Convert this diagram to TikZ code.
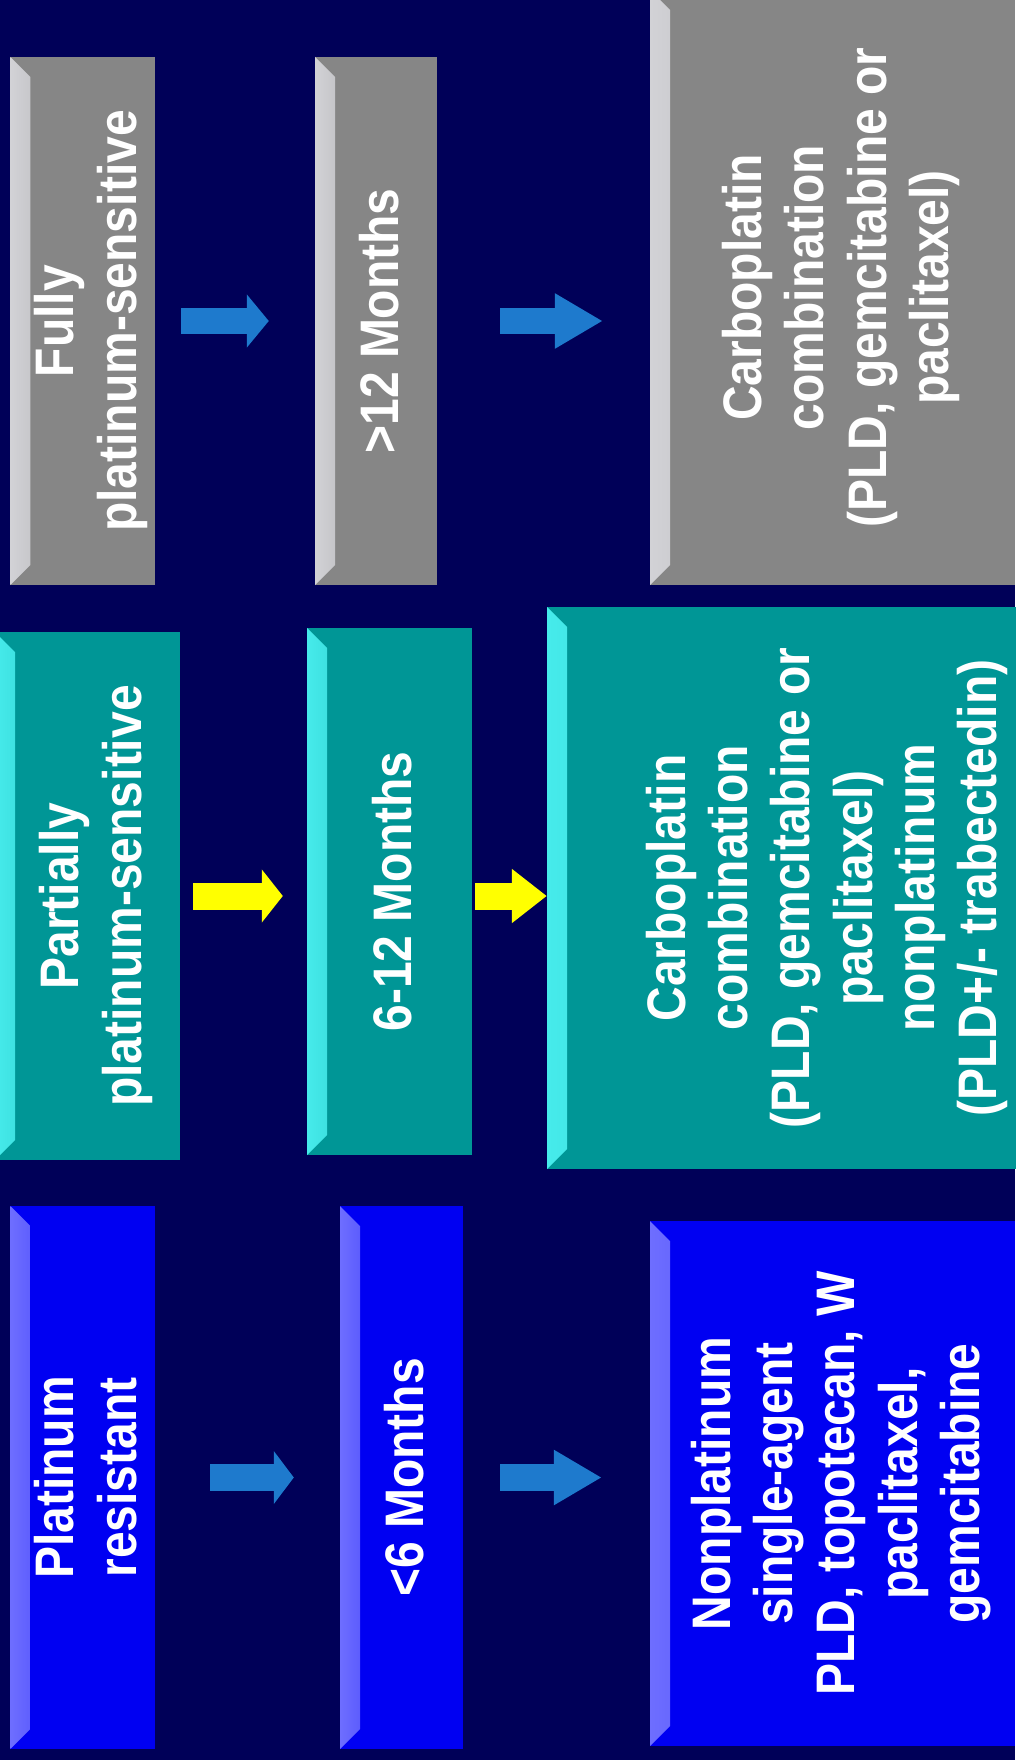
\documentclass[tikz,border=0pt]{standalone}
\usepackage{fontspec}
\setmainfont{Liberation Sans}
\usepackage{xcolor}
\usepackage{graphicx}
\usetikzlibrary{arrows.meta}
\definecolor{slidebg}{RGB}{0,0,88}
\definecolor{facegray}{RGB}{134,134,134}
\definecolor{bevelgray}{RGB}{210,210,214}
\definecolor{faceteal}{RGB}{0,150,150}
\definecolor{bevelteal}{RGB}{70,235,235}
\definecolor{faceblue}{RGB}{0,0,242}
\definecolor{bevelblue}{RGB}{110,110,255}
\definecolor{arrowblue}{RGB}{30,122,205}
\definecolor{arrowyellow}{RGB}{255,255,0}
\def\bevel{20pt}
% text of a box, turned to read upwards
\newcommand{\vlabel}[1]{\hspace*{\bevel}\rotatebox{90}{\scalebox{1}[1.13]{\begin{tabular}{@{}c@{}}#1\end{tabular}}}}
\tikzset{
  bevel box/.style 2 args={rectangle, inner sep=0pt, fill=#1, text=white,
    font=\fontsize{48}{55}\selectfont\bfseries,
    path picture={
      \fill[left color=#2, right color=#1]
        (path picture bounding box.north west) -- (path picture bounding box.south west)
        -- ([xshift=\bevel,yshift=\bevel]path picture bounding box.south west)
        -- ([xshift=\bevel,yshift=-\bevel]path picture bounding box.north west) -- cycle;
    }},
  flow/.style={line width=27pt, -{Triangle[width=52pt,length=#1]}},
  flow/.default=22pt
}

\begin{document}
\begin{tikzpicture}[x=1pt, y=-1pt]
    \tikzstyle{gray box}=[bevel box={facegray}{bevelgray}]
    \tikzstyle{teal box}=[bevel box={faceteal}{bevelteal}]
    \tikzstyle{blue box}=[bevel box={faceblue}{bevelblue}]

    \useasboundingbox (0,0) rectangle (1015,1760);
    \fill[slidebg] (0,0) rectangle (1015,1760);

    % Fully sensitive row
    \node[gray box, minimum width=139pt, minimum height=528pt] (G-1) at (82.5,321) {\vlabel{Fully\\platinum-sensitive}};
    \node[gray box, minimum width=122pt, minimum height=528pt] (G-2) at (376,321) {\vlabel{>12 Months}};
    \node[gray box, minimum width=365pt, minimum height=595pt] (G-3) at (832.5,287.5) {\vlabel{Carboplatin\\combination\\(PLD, gemcitabine or\\paclitaxel)}};

    % Partially sensitive row
    \node[teal box, minimum width=185pt, minimum height=528pt] (T-1) at (87.5,896) {\vlabel{Partially\\platinum-sensitive}};
    \node[teal box, minimum width=165pt, minimum height=527pt] (T-2) at (389.5,891.5) {\vlabel{6-12 Months}};
    \node[teal box, minimum width=543pt, minimum height=562pt] (T-3) at (818.5,888) {\vlabel{Carboplatin\\combination\\(PLD, gemcitabine or\\paclitaxel)\\nonplatinum\\(PLD+/- trabectedin)}};

    % Resistant row
    \node[blue box, minimum width=139pt, minimum height=543pt] (B-1) at (82.5,1477.5) {\vlabel{Platinum\\resistant}};
    \node[blue box, minimum width=123pt, minimum height=543pt] (B-2) at (401.5,1477.5) {\vlabel{<6 Months}};
    \node[blue box, minimum width=365pt, minimum height=525pt] (B-3) at (832.5,1483.5) {\vlabel{Nonplatinum\\single-agent\\PLD, topotecan, W\\paclitaxel,\\gemcitabine}};

    % Arrows between the boxes
    \draw[flow, draw=arrowblue, line width=26pt, shorten <=26pt, shorten >=46pt] (G-1.east) -- (G-2.west);
    \draw[flow=48pt, draw=arrowblue, line width=26pt, shorten <=63pt, shorten >=47pt] (G-2.east) -- (G-2.east -| G-3.west);
    \draw[flow=21pt, draw=arrowyellow, shorten <=13pt, shorten >=24pt] (T-1.east) -- (T-1.east -| T-2.west);
    \draw[flow=35pt, draw=arrowyellow, shorten <=3pt] (T-2.east |- T-1.east) -- (T-1.east -| T-3.west);
    \draw[flow=20pt, draw=arrowblue, shorten <=55pt, shorten >=46pt] (B-1.east) -- (B-2.west);
    \draw[flow=48pt, draw=arrowblue, shorten <=37pt, shorten >=48pt] (B-2.east) -- (B-2.east -| B-3.west);
\end{tikzpicture}
\end{document}
